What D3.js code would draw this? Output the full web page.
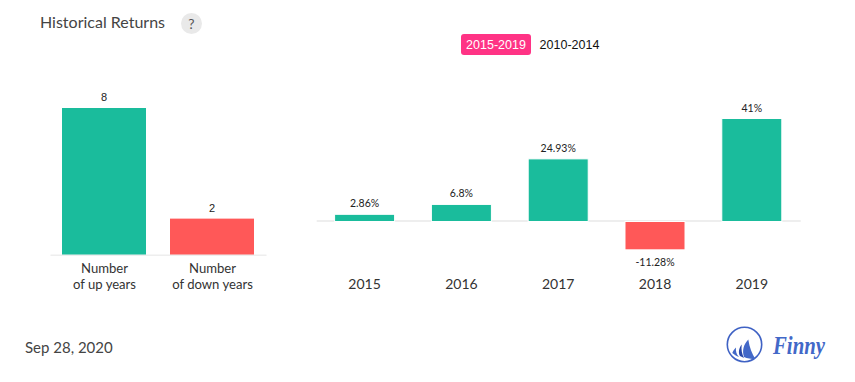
<!DOCTYPE html>
<html>
<head>
<meta charset="utf-8">
<script src="https://cdn.jsdelivr.net/npm/d3@7"></script>
<style>
  html, body { margin: 0; padding: 0; background: #fff; }
  text { font-family: Lato, sans-serif; }
</style>
</head>
<body>
<div id="chart"></div>
<script>
const countLabels = [['Number', 'of up years'], ['Number', 'of down years']];
const countValues = [8, 2];
const years = ['2015', '2016', '2017', '2018', '2019'];
const returns = [2.86, 6.8, 24.93, -11.28, 41];
const returnLabels = ['2.86%', '6.8%', '24.93%', '-11.28%', '41%'];
const ranges = ['2015-2019', '2010-2014'];

const up = '#1abc9c';
const down = '#ff5858';
const width = 855;
const height = 382;

const svg = d3.select('#chart').append('svg')
    .attr('width', width)
    .attr('height', height)
    .style('display', 'block');

// title + help badge
svg.append('text').attr('x', 40).attr('y', 28)
    .attr('font-size', 16).attr('fill', '#444').text('Historical Returns');
svg.append('circle').attr('cx', 191.5).attr('cy', 23.5).attr('r', 10.5).attr('fill', '#e9e9e9');
svg.append('text').attr('x', 191.5).attr('y', 28.5).attr('text-anchor', 'middle')
    .attr('font-size', 14).attr('fill', '#555').text('?');

// range switch
svg.append('rect').attr('x', 461).attr('y', 34).attr('width', 70).attr('height', 21).attr('rx', 3)
    .attr('fill', '#ff3385');
svg.append('text').attr('x', 496).attr('y', 49).attr('text-anchor', 'middle')
    .style('font-family', 'Liberation Sans')
    .attr('font-size', 12.5).attr('fill', '#fff').text(ranges[0]);
svg.append('text').attr('x', 569.5).attr('y', 49).attr('text-anchor', 'middle')
    .style('font-family', 'Liberation Sans')
    .attr('font-size', 12.5).attr('fill', '#111').text(ranges[1]);

// left chart: up and down year counts
const xCount = d3.scaleBand().domain(countLabels.map(d => d[1])).range([50, 266])
    .paddingInner(0.2222).paddingOuter(0.1111);
const yCount = d3.scaleLinear().domain([0, 8]).range([255.5, 108]);

svg.append('g').selectAll('rect').data(countValues).enter().append('rect')
    .attr('x', (d, i) => xCount(countLabels[i][1]))
    .attr('y', d => yCount(d))
    .attr('width', xCount.bandwidth())
    .attr('height', d => yCount(0) - yCount(d))
    .attr('fill', (d, i) => i == 0 ? up : down);

const countAxis = svg.append('g').attr('transform', 'translate(0,254.75)')
    .call(d3.axisBottom(xCount).tickSize(0).tickPadding(0));
countAxis.select('.domain').attr('stroke', '#eee').attr('stroke-width', 1.5);
countAxis.selectAll('.tick text').remove();
countAxis.selectAll('.tick').append('text')
    .attr('text-anchor', 'middle')
    .attr('fill', '#333')
    .attr('font-size', 13.1)
    .selectAll('tspan').data((d, i) => countLabels[i]).enter().append('tspan')
    .attr('x', 0.5)
    .attr('y', (d, i) => 18 + i * 16)
    .text(d => d);

svg.append('g').selectAll('text').data(countValues).enter().append('text')
    .attr('x', (d, i) => xCount(countLabels[i][1]) + xCount.bandwidth() / 2)
    .attr('y', d => yCount(d) - 7)
    .attr('text-anchor', 'middle')
    .style('font-family', 'Liberation Sans')
    .attr('font-size', 11)
    .attr('fill', '#222')
    .text(d => d);

// right chart: yearly returns
const xYear = d3.scaleBand().domain(years).range([316.2, 800.2])
    .paddingInner(0.38).paddingOuter(0.19);
const yReturn = d3.scaleLinear().domain([0, 41]).range([221.5, 118.5]);

const yearAxis = svg.append('g').attr('transform', 'translate(0,' + (yReturn(0) - 1) + ')')
    .call(d3.axisBottom(xYear).tickSize(0).tickPadding(0));
yearAxis.select('.domain').attr('stroke', '#eee').attr('stroke-width', 2);
yearAxis.selectAll('.tick text')
    .attr('dy', 0)
    .attr('y', 68.5)
    .style('font-family', 'Lato')
    .attr('font-size', 14)
    .attr('fill', '#333');

// white outline cuts the baseline next to each bar
svg.append('g').selectAll('rect').data(returns).enter().append('rect')
    .attr('x', (d, i) => xYear(years[i]))
    .attr('y', d => d > 0 ? yReturn(d) : yReturn(0))
    .attr('width', xYear.bandwidth())
    .attr('height', d => Math.abs(yReturn(d) - yReturn(0)))
    .attr('fill', d => d > 0 ? up : down)
    .attr('stroke', '#fff')
    .attr('stroke-width', 1);

svg.append('g').selectAll('text').data(returns).enter().append('text')
    .attr('x', (d, i) => xYear(years[i]) + xYear.bandwidth() / 2)
    .attr('y', d => d > 0 ? yReturn(d) - 7 : yReturn(d) + 16.5)
    .attr('text-anchor', 'middle')
    .attr('font-size', 10.5)
    .attr('fill', '#222')
    .text((d, i) => returnLabels[i]);

// date
svg.append('text').attr('x', 25).attr('y', 353)
    .attr('font-size', 15).attr('fill', '#444').text('Sep 28, 2020');

// logo
const logo = svg.append('g').attr('transform', 'translate(744.5,344.5)');
logo.append('circle').attr('r', 17.2).attr('fill', 'none').attr('stroke', '#3f62c4').attr('stroke-width', 1.6);
logo.append('path').attr('fill', '#4268c8').attr('d', 'M3.8,-5 C5,3 7.5,9 10.8,14.5 C7,14.5 2.5,14 -0.5,12.5 C-2.5,6 -1,0 3.8,-5Z');
logo.append('path').attr('fill', '#2a48a8').attr('d', 'M-2.8,0 C-3.5,5 -2.5,10 -0.5,13.5 L-4.5,11.5 C-6.5,8 -5.5,3.5 -2.8,0Z');
logo.append('path').attr('fill', '#4268c8').attr('d', 'M-8.5,3 C-9,7 -8,10 -5.5,12.5 C-8,11.5 -10.5,10 -12.2,8.5 C-11.5,6.5 -10,4.5 -8.5,3Z');
svg.append('text').attr('x', 773).attr('y', 354)
    .style('font-family', 'Liberation Serif').style('font-style', 'italic').style('font-weight', 700)
    .attr('font-size', 26).attr('fill', '#4268c8')
    .attr('textLength', 52).attr('lengthAdjust', 'spacingAndGlyphs')
    .text('Finny');
</script>
</body>
</html>
